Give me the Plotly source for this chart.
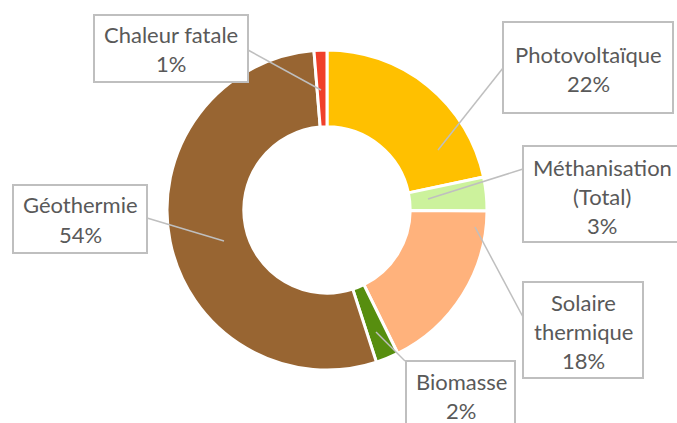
import plotly.graph_objects as go

# ---- data ----
labels = ["Photovoltaïque", "Méthanisation (Total)", "Solaire thermique", "Biomasse", "Géothermie", "Chaleur fatale"]
label_lines = [["Photovoltaïque"], ["Méthanisation", "(Total)"], ["Solaire", "thermique"], ["Biomasse"], ["Géothermie"], ["Chaleur fatale"]]
values = [21.7, 3.4, 17.6, 2.3, 53.7, 1.3]
colors = ["#FFC000", "#CCF29C", "#FFB27C", "#578E0F", "#986532", "#F0402A"]

W, H = 677, 423
FONT = "Lato"
TXT = "#595959"
GREY = "#BFBFBF"

# ---- label layout (pixels) ----
# box [x0, x1, y0, y1], text centre x, first line mid y, leader start, leader end
layout_px = [
    dict(box=(503, 673, 22, 113), tx=588, ty=54.5, lead=((503, 68), (438, 150))),
    dict(box=(523, 690, 146, 242), tx=602, ty=167.5, lead=((523, 169), (428, 199))),
    dict(box=(523, 643, 282, 378), tx=583, ty=302, lead=((523, 317), (475, 227))),
    dict(box=(406, 515, 361, 440), tx=461, ty=381, lead=((405, 361), (376, 332))),
    dict(box=(13, 147, 185, 253), tx=80, ty=205, lead=((147, 218), (224, 241))),
    dict(box=(94, 248, 15, 82), tx=171, ty=34, lead=((248, 50), (321, 90))),
]
LINE_STEP = 29


def px(x):
    return x / W


def py(y):
    return 1 - y / H


fig = go.Figure()
fig.add_trace(go.Pie(
    labels=labels,
    values=values,
    hole=0.52,
    sort=False,
    direction="clockwise",
    rotation=0,
    marker=dict(colors=colors, line=dict(color="white", width=3)),
    textinfo="none",
    hoverinfo="label+percent",
    showlegend=False,
    domain=dict(x=[px(167), px(487)], y=[py(370), py(50)]),
))

shapes = []
annotations = []
total = sum(values)
for lines, v, L in zip(label_lines, values, layout_px):
    x0, x1, y0, y1 = L["box"]
    shapes.append(dict(type="rect", xref="paper", yref="paper",
                       x0=px(x0), x1=px(x1), y0=py(y1), y1=py(y0),
                       line=dict(color=GREY, width=2), fillcolor="white", layer="above"))
    (ax, ay), (bx, by) = L["lead"]
    shapes.append(dict(type="line", xref="paper", yref="paper",
                       x0=px(ax), y0=py(ay), x1=px(bx), y1=py(by),
                       line=dict(color=GREY, width=1.5), layer="above"))
    all_lines = lines + [f"{round(v / total * 100)}%"]
    for i, t in enumerate(all_lines):
        annotations.append(dict(
            x=px(L["tx"]), y=py(L["ty"] + i * LINE_STEP), xref="paper", yref="paper",
            text=t, showarrow=False, xanchor="center", yanchor="middle",
            font=dict(family=FONT, size=22, color=TXT),
        ))

fig.update_layout(
    width=W, height=H,
    margin=dict(l=0, r=0, t=0, b=0),
    paper_bgcolor="white",
    plot_bgcolor="white",
    shapes=shapes,
    annotations=annotations,
)

fig.write_html(
    "out.html",
    config={"displayModeBar": False},
    post_script="document.body.style.margin='0';document.body.style.overflow='hidden';",
)
